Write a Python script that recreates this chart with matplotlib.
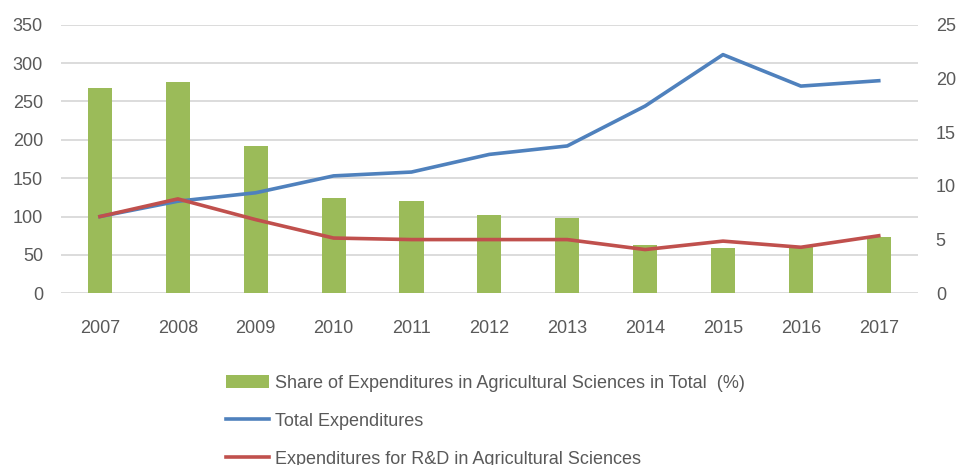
import matplotlib
matplotlib.use("Agg")
import matplotlib.pyplot as plt

plt.rcParams['font.family'] = ['Liberation Sans', 'DejaVu Sans']

years = ['2007', '2008', '2009', '2010', '2011', '2012', '2013', '2014', '2015', '2016', '2017']
share_pct = [19.1, 19.7, 13.7, 8.9, 8.6, 7.3, 7.0, 4.5, 4.2, 4.3, 5.2]
total_exp = [100, 120, 131, 153, 158, 181, 192, 244, 311, 270, 277]
rd_agri = [100, 123, 96, 72, 70, 70, 70, 57, 68, 60, 75]

left_ticks = [0, 50, 100, 150, 200, 250, 300, 350]
right_ticks = [0, 5, 10, 15, 20, 25]

label_bar = 'Share of Expenditures in Agricultural Sciences in Total  (%)'
label_total = 'Total Expenditures'
label_rd = 'Expenditures for R&D in Agricultural Sciences'

green = '#9bbb59'
blue = '#4f81bd'
red = '#c0504d'
txt = '#595959'
grid = '#d9d9d9'

fig = plt.figure(figsize=(9.59, 4.65), dpi=100)
pos = [61 / 959, 1 - 293.3 / 465, (917.7 - 61) / 959, (293.3 - 24.7) / 465]

x = list(range(len(years)))

# background axis: left scale + gridlines
ax = fig.add_axes(pos)
ax.set_xlim(-0.5, len(years) - 0.5)
ax.set_ylim(0, 350)
ax.set_yticks(left_ticks)
ax.grid(axis='y', color=grid, linewidth=1.3)
ax.set_axisbelow(True)
ax.set_xticks(x)
ax.set_xticklabels(years)
ax.tick_params(axis='both', length=0, labelsize=13, colors=txt)
ax.tick_params(axis='y', pad=13)
ax.tick_params(axis='x', pad=19)
for s in ax.spines.values():
    s.set_visible(False)

# bars on right axis
ax2 = ax.twinx()
ax2.set_ylim(0, 25)
ax2.set_yticks(right_ticks)
bars = ax2.bar(x, share_pct, width=0.31, color=green, label=label_bar)
ax2.tick_params(axis='y', length=0, labelsize=13, colors=txt, pad=13)
for s in ax2.spines.values():
    s.set_visible(False)

# lines on left scale
ax3 = ax.twinx()
ax3.set_ylim(0, 350)
ax3.set_yticks([])
for s in ax3.spines.values():
    s.set_visible(False)
l1, = ax3.plot(x, total_exp, color=blue, linewidth=2.6, label=label_total)
l2, = ax3.plot(x, rd_agri, color=red, linewidth=2.6, label=label_rd)

fig.legend(handles=[bars, l1, l2], loc='upper left',
           bbox_to_anchor=(226 / 959, 1 - 375 / 465),
           frameon=False, fontsize=13, labelcolor=txt,
           handlelength=2.4, handletextpad=0.3, labelspacing=1.15,
           borderpad=0, borderaxespad=0)

fig.savefig('out.png', dpi=100)
